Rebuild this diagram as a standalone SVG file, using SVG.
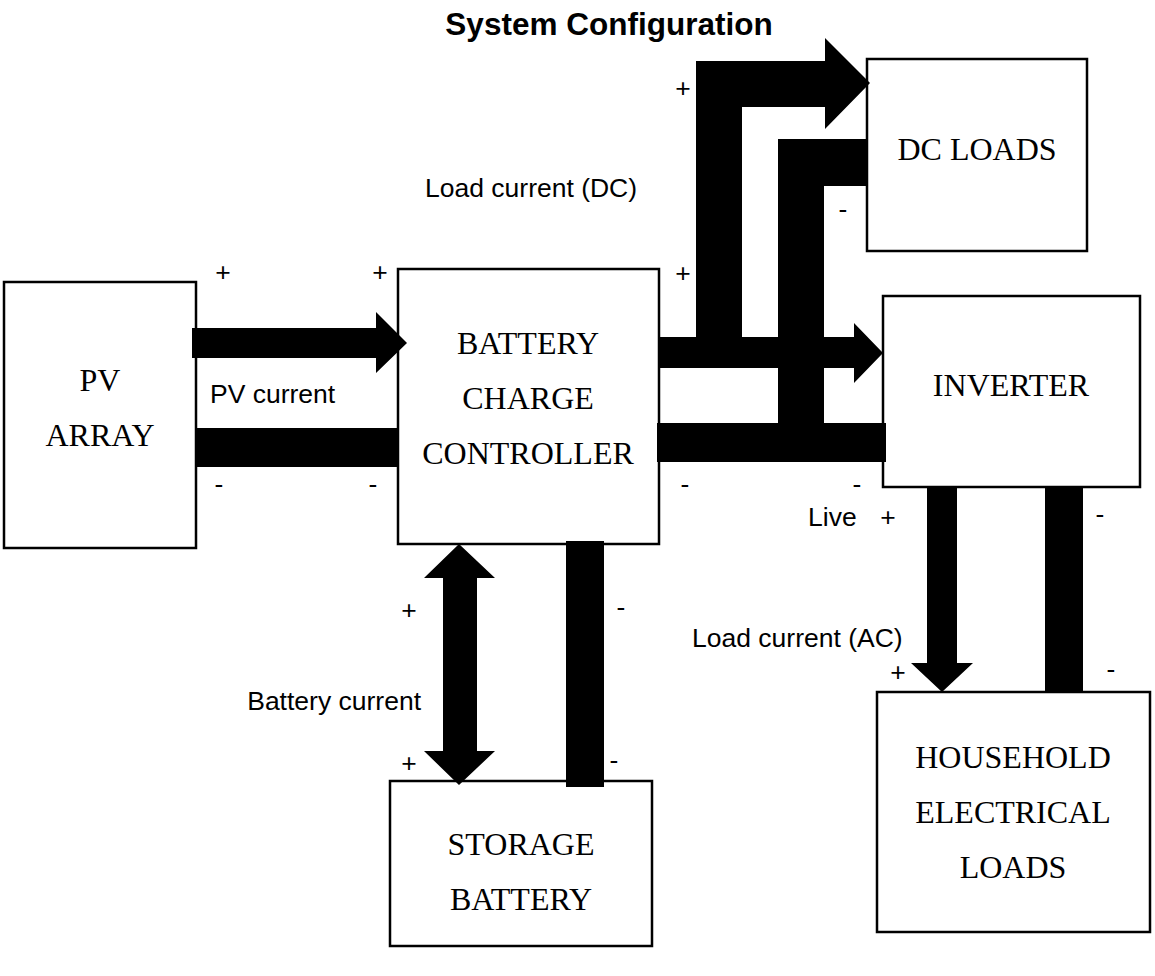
<svg xmlns="http://www.w3.org/2000/svg" width="1155" height="976" viewBox="0 0 1155 976">
<style>
.box{fill:#fff;stroke:#000;stroke-width:2.5}
.nt{font-family:"Liberation Serif","Times New Roman",serif;font-size:32px;fill:#000;text-anchor:middle}
.lb{font-family:"Liberation Sans",Arial,sans-serif;font-size:26.5px;fill:#000}
.pm{font-family:"Liberation Sans",Arial,sans-serif;font-size:26.5px;fill:#000;text-anchor:middle}
.bar{fill:#000}
</style>
<rect width="1155" height="976" fill="#fff"/>
<text x="609" y="35" font-family="Liberation Sans, Arial, sans-serif" font-size="31.5" font-weight="bold" text-anchor="middle">System Configuration</text>

<g id="pv-array">
<rect class="box" x="4" y="282" width="192" height="266"/>
<text class="nt" x="100" y="391">PV</text>
<text class="nt" x="100" y="446">ARRAY</text>
</g>
<g id="charge-controller">
<rect class="box" x="398" y="269" width="261" height="275"/>
<text class="nt" x="528" y="354">BATTERY</text>
<text class="nt" x="528" y="409">CHARGE</text>
<text class="nt" x="528" y="464">CONTROLLER</text>
</g>
<g id="dc-loads">
<rect class="box" x="867" y="59" width="220" height="192"/>
<text class="nt" x="977" y="160">DC LOADS</text>
</g>
<g id="inverter">
<rect class="box" x="883" y="296" width="257" height="191"/>
<text class="nt" x="1011" y="396">INVERTER</text>
</g>
<g id="household-loads">
<rect class="box" x="877" y="692" width="273" height="240"/>
<text class="nt" x="1013" y="768">HOUSEHOLD</text>
<text class="nt" x="1013" y="823">ELECTRICAL</text>
<text class="nt" x="1013" y="878">LOADS</text>
</g>
<g id="storage-battery">
<rect class="box" x="390" y="781" width="262" height="165"/>
<text class="nt" x="521" y="855">STORAGE</text>
<text class="nt" x="521" y="910">BATTERY</text>
</g>

<g id="connectors">
<path class="bar" d="M192,328 H376 V312 L407,343 L376,373 V358 H192 Z"/>
<rect class="bar" x="196" y="428" width="202" height="39"/>
<path class="bar" d="M658,337 H854 V323 L883,353 L854,383 V368 H658 Z"/>
<path class="bar" d="M696,368 V61 H825 V38 L870,83 L825,129 V107 H742 V368 Z"/>
<path class="bar" d="M778,462 V139 H867 V186 H824 V462 Z"/>
<rect class="bar" x="657" y="423" width="229" height="39"/>
<path class="bar" d="M927,487 V663 H911 L942,692 L973,663 H957 V487 Z"/>
<rect class="bar" x="1045" y="487" width="38" height="205"/>
<path class="bar" d="M459,544 L495,578 H477 V751 H495 L459,785 L424,751 H443 V578 H424 Z"/>
<rect class="bar" x="566" y="541" width="38" height="246"/>
</g>

<g id="labels">
<text class="lb" x="210" y="403">PV current</text>
<text class="lb" x="425" y="197">Load current (DC)</text>
<text class="lb" x="692" y="647">Load current (AC)</text>
<text class="lb" x="421" y="710" text-anchor="end">Battery current</text>
<text class="lb" x="808" y="526">Live</text>
<text class="pm" x="223" y="281">+</text>
<text class="pm" x="380" y="281">+</text>
<text class="pm" x="219" y="493">-</text>
<text class="pm" x="373" y="493">-</text>
<text class="pm" x="683" y="97">+</text>
<text class="pm" x="683" y="282">+</text>
<text class="pm" x="843" y="218">-</text>
<text class="pm" x="685" y="493">-</text>
<text class="pm" x="857" y="493">-</text>
<text class="pm" x="888" y="526">+</text>
<text class="pm" x="1100" y="523">-</text>
<text class="pm" x="898" y="681">+</text>
<text class="pm" x="1111" y="678">-</text>
<text class="pm" x="409" y="619">+</text>
<text class="pm" x="621" y="616">-</text>
<text class="pm" x="409" y="772">+</text>
<text class="pm" x="614" y="769">-</text>
</g>
</svg>
